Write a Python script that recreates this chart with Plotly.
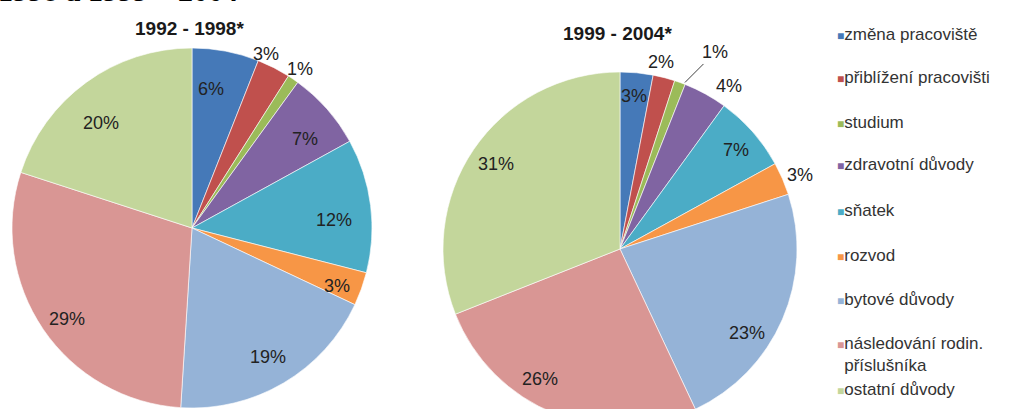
import math
import plotly.graph_objects as go

categories = ["změna pracoviště", "přiblížení pracovišti", "studium", "zdravotní důvody",
              "sňatek", "rozvod", "bytové důvody", "následování rodin. příslušníka", "ostatní důvody"]
values_1992_1998 = [6, 3, 1, 7, 12, 3, 19, 29, 20]
values_1999_2004 = [3, 2, 1, 4, 7, 3, 23, 26, 31]
titles = ["1992 - 1998*", "1999 - 2004*"]
heading = "1998 a 1999 – 2004"

colors = ["#4579B8", "#C0504D", "#9BBB59", "#8064A2", "#4BACC6",
          "#F79646", "#95B3D7", "#D99694", "#C3D69B"]

# figure is a bit taller than the window; the bottom is cropped like in the reference
W, H = 1015, 426

def px(x):
    return x / W

def py(y):
    return 1 - y / H

# label placement styles: radial factor and angular nudge (degrees)
pies = [
    dict(vals=values_1992_1998, cx=192, cy=228, r=180, title=titles[0], ty=29,
         rfac=[0.78, 1.05, 1.07, 0.8, 0.79, 0.87, 0.83, 0.86, 0.77],
         dang=[-3, -4, 0, 3, 4, 2, 0, -2, -5]),
    dict(vals=values_1999_2004, cx=620, cy=249, r=177, title=titles[1], ty=33,
         rfac=[0.87, 1.08, None, 1.11, 0.86, 1.1, 0.86, 0.86, 0.85],
         dang=[0, -2, 0, 5, 1, 1, 10, 10, 0]),
]

fig = go.Figure()
annotations = []
label_font = dict(family="Liberation Sans, Arial, sans-serif", size=18, color="#222222")

for i, p in enumerate(pies):
    r = p["r"]
    fig.add_trace(go.Pie(
        labels=categories, values=p["vals"], sort=False, direction="clockwise", rotation=0,
        marker=dict(colors=colors, line=dict(color="rgba(255,255,255,0.6)", width=1)),
        textinfo="none", hoverinfo="label+percent", showlegend=False,
        domain=dict(x=[px(p["cx"] - r), px(p["cx"] + r)], y=[py(p["cy"] + r), py(p["cy"] - r)]),
    ))
    total = sum(p["vals"])
    cum = 0
    for j, v in enumerate(p["vals"]):
        mid = (cum + v / 2) / total * 2 * math.pi
        cum += v
        f = p["rfac"][j]
        if f is None:
            ex = p["cx"] + r * math.sin(mid)
            ey = p["cy"] - r * math.cos(mid)
            annotations.append(dict(x=px(ex + 5), y=py(ey), xref="paper", yref="paper",
                                    text=f"{v}%", showarrow=True, arrowhead=0, arrowwidth=1,
                                    arrowcolor="#404040", ax=30, ay=-30,
                                    font=label_font))
            continue
        a = mid + math.radians(p["dang"][j])
        lx = p["cx"] + r * f * math.sin(a)
        ly = p["cy"] - r * f * math.cos(a)
        annotations.append(dict(x=px(lx), y=py(ly), xref="paper", yref="paper",
                                xanchor="center", yanchor="middle",
                                text=f"{v}%", showarrow=False, font=label_font))
    annotations.append(dict(x=px(p["cx"] - 3), y=py(p["ty"]), xref="paper", yref="paper",
                            xanchor="center", yanchor="middle",
                            text=f"<b>{p['title']}</b>", showarrow=False,
                            font=dict(family="Liberation Sans, Arial, sans-serif", size=19, color="#1a1a1a")))

# heading (cut off at the top, as in the reference)
annotations.append(dict(x=px(-4), y=py(-10), xref="paper", yref="paper", xanchor="left", yanchor="middle",
                        text=f"<b>{heading}</b>", showarrow=False,
                        font=dict(family="Liberation Serif, Times New Roman, serif", size=30, color="#000000")))

# legend
legend_y = [35, 78, 122, 165, 210, 255, 299, 354, 389]
for c, lab, ly in zip(colors, categories, legend_y):
    sq = f"<span style='color:{c};font-size:12px'>■</span>"
    if lab.startswith("následování"):
        t = (f"{sq}následování rodin.<br>"
             f"<span style='color:rgba(0,0,0,0);font-size:12px'>■</span>příslušníka")
    else:
        t = f"{sq}{lab}"
    annotations.append(dict(x=px(835), y=py(ly), xref="paper", yref="paper", xanchor="left",
                            yanchor="middle", align="left", text=t, showarrow=False,
                            font=dict(family="Liberation Sans, Arial, sans-serif", size=17, color="#333333")))

fig.update_layout(width=W, height=H, margin=dict(l=0, r=0, t=0, b=0),
                  paper_bgcolor="white", plot_bgcolor="white", annotations=annotations,
                  showlegend=False)
fig.write_html("out.html", config={"displayModeBar": False},
               post_script="document.body.style.margin='0px';document.body.style.overflow='hidden';"
                           "document.documentElement.style.overflow='hidden';")
